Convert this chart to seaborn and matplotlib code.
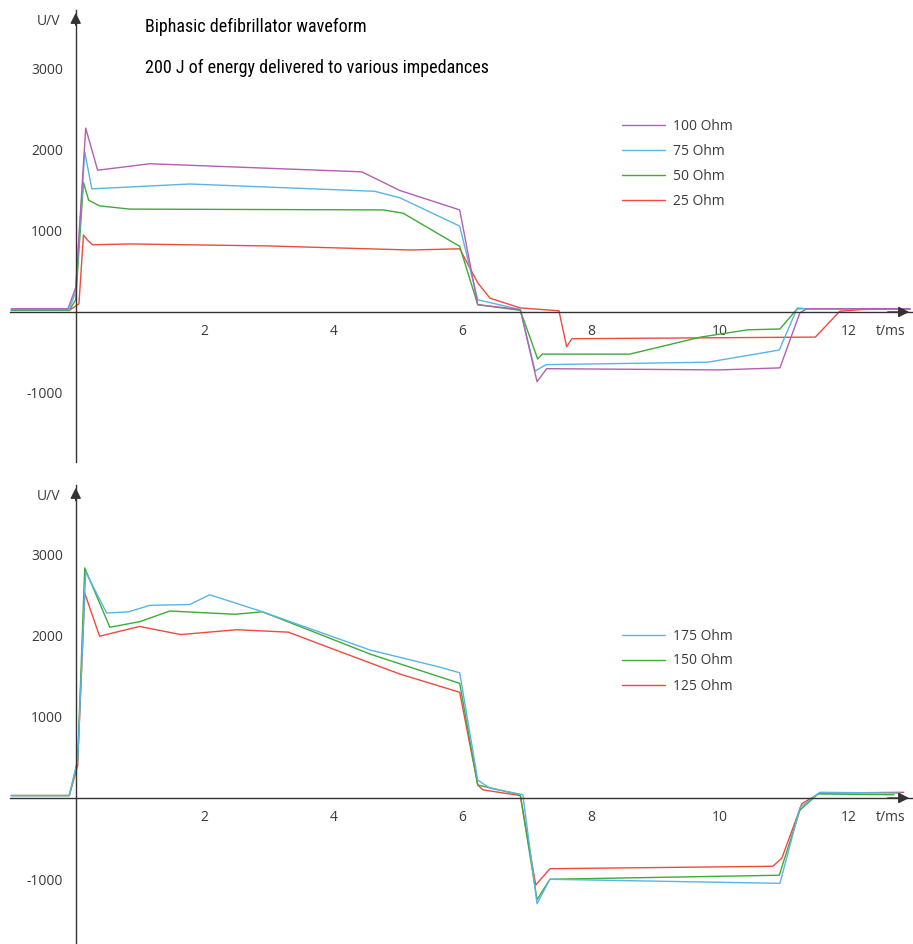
import pandas as pd
import matplotlib.pyplot as plt
import seaborn as sns
from matplotlib import font_manager

# ---- top panel: 200 J into low impedances ----
t_100 = [-1.0, -0.12, 0.0, 0.155, 0.34, 1.15, 4.44, 5.03, 5.96, 6.24, 6.9, 7.16, 7.31, 10.0, 10.93, 11.24, 11.35, 12.95]
u_100 = [40, 40, 300, 2270, 1750, 1830, 1730, 1500, 1260, 90, 30, -860, -700, -715, -690, -10, 40, 40]

t_75 = [-1.0, -0.1, 0.0, 0.14, 0.25, 1.77, 4.64, 5.03, 5.96, 6.24, 6.9, 7.13, 7.3, 9.81, 10.92, 11.2, 11.35, 12.95]
u_75 = [30, 30, 250, 1975, 1520, 1580, 1490, 1410, 1060, 150, 30, -730, -650, -620, -470, 50, 40, 40]

t_50 = [-1.0, -0.1, 0.0, 0.12, 0.2, 0.37, 0.84, 4.77, 5.08, 5.96, 6.24, 6.9, 7.17, 7.24, 8.6, 9.7, 10.43, 10.93, 11.2, 12.95]
u_50 = [20, 20, 150, 1600, 1380, 1310, 1270, 1260, 1220, 810, 90, 20, -580, -520, -520, -310, -220, -210, 40, 40]

t_25 = [-1.0, -0.1, 0.05, 0.12, 0.18, 0.26, 0.84, 3.0, 5.2, 5.96, 6.24, 6.43, 6.9, 7.5, 7.62, 7.7, 11.48, 11.86, 12.2, 12.95]
u_25 = [20, 20, 100, 950, 890, 830, 840, 815, 765, 780, 360, 170, 50, 15, -430, -330, -310, 10, 30, 40]

# ---- bottom panel: higher impedances ----
t_175 = [-1.0, -0.1, 0.03, 0.155, 0.48, 0.82, 1.15, 1.77, 2.08, 2.9, 4.57, 5.65, 5.96, 6.24, 6.43, 6.94, 7.16, 7.36, 10.93, 11.24, 11.55, 12.8]
u_175 = [30, 30, 470, 2780, 2275, 2290, 2370, 2380, 2500, 2290, 1820, 1610, 1540, 220, 120, 40, -1300, -1000, -1050, -120, 70, 60]

t_150 = [-1.0, -0.1, 0.03, 0.14, 0.53, 1.0, 1.46, 2.47, 2.9, 4.57, 5.65, 5.96, 6.24, 6.9, 7.16, 7.36, 10.92, 11.24, 11.52, 12.7]
u_150 = [30, 30, 450, 2830, 2100, 2170, 2300, 2260, 2290, 1770, 1490, 1410, 160, 40, -1250, -1000, -950, -150, 50, 40]

t_125 = [-1.0, -0.1, 0.03, 0.14, 0.37, 0.99, 1.63, 2.5, 3.3, 4.0, 5.03, 5.96, 6.24, 6.32, 6.9, 7.14, 7.36, 10.82, 10.96, 11.27, 11.55, 12.85]
u_125 = [30, 30, 400, 2520, 1990, 2110, 2010, 2070, 2040, 1830, 1525, 1300, 160, 100, 30, -1070, -870, -840, -740, -70, 60, 70]

x_ticks = [2, 4, 6, 8, 10, 12]
y_ticks = [-1000, 1000, 2000, 3000]

title_1 = 'Biphasic defibrillator waveform'
title_2 = '200 J of energy delivered to various impedances'

sns.set_style('white')
plt.rcParams['font.family'] = ['Open Sans', 'DejaVu Sans']
plt.rcParams['axes.unicode_minus'] = False

axis_col = '#333333'
text_col = '#3a3a3a'

# pick a narrow face for the headline if one is around
names = {f.name for f in font_manager.fontManager.ttflist}
narrow = [n for n in ['Liberation Sans Narrow', 'DejaVu Sans Condensed', 'Roboto Condensed']
          if n in names]
title_family = narrow[:1] + ['DejaVu Sans']


def long_form(series):
    frames = []
    for name, t, u in series:
        frames.append(pd.DataFrame({'t': t, 'U': u, 'series': name}))
    return pd.concat(frames, ignore_index=True)


def style_axes(ax, ylim):
    ax.set_xlim(-1.02, 12.98)
    ax.set_ylim(*ylim)
    for side in ['top', 'right']:
        ax.spines[side].set_visible(False)
    ax.spines['left'].set_position(('data', 0))
    ax.spines['bottom'].set_position(('data', 0))
    for side in ['left', 'bottom']:
        ax.spines[side].set_color(axis_col)
        ax.spines[side].set_linewidth(1.0)
    ax.set_xticks(x_ticks)
    ax.set_yticks(y_ticks)
    ax.tick_params(direction='inout', length=8, width=1, color=axis_col,
                   labelsize=10, labelcolor=text_col)
    ax.tick_params(axis='x', pad=5)
    ax.tick_params(axis='y', pad=5)
    ax.set_xlabel('')
    ax.set_ylabel('')
    # arrow heads on both axes
    ax.annotate('', xy=(0, 1.0), xytext=(0, 0.96), xycoords=ax.get_xaxis_transform(),
                arrowprops=dict(arrowstyle='-|>', color=axis_col, lw=1, mutation_scale=16))
    ax.annotate('', xy=(1.0, 0), xytext=(0.97, 0), xycoords=ax.get_yaxis_transform(),
                arrowprops=dict(arrowstyle='-|>', color=axis_col, lw=1, mutation_scale=16))
    ax.annotate('t/ms', xy=(12.42, 0), xytext=(0, -9), textcoords='offset points',
                ha='left', va='top', fontsize=10, color=text_col)
    ax.annotate('U/V', xy=(-0.24, ylim[1]), xytext=(0, -8), textcoords='offset points',
                ha='right', va='center', fontsize=10, color=text_col)


fig = plt.figure(figsize=(9.13, 9.44), dpi=100)
ax1 = fig.add_axes([10 / 913, 1 - 462 / 944, 902 / 913, 452 / 944])
ax2 = fig.add_axes([10 / 913, 0.0, 902 / 913, 459 / 944])

top = long_form([('100 Ohm', t_100, u_100), ('75 Ohm', t_75, u_75),
                 ('50 Ohm', t_50, u_50), ('25 Ohm', t_25, u_25)])
pal_top = {'100 Ohm': '#b35fb3', '75 Ohm': '#5ab4e4', '50 Ohm': '#3dab38', '25 Ohm': '#ee4a3e'}
sns.lineplot(data=top, x='t', y='U', hue='series', palette=pal_top, sort=False,
             estimator=None, linewidth=1.0, ax=ax1,
             hue_order=['25 Ohm', '50 Ohm', '75 Ohm', '100 Ohm'])
style_axes(ax1, (-1852, 3728))
h, l = ax1.get_legend_handles_labels()
order = [l.index(n) for n in ['100 Ohm', '75 Ohm', '50 Ohm', '25 Ohm']]
ax1.legend([h[i] for i in order], [l[i] for i in order], loc='center left',
           bbox_to_anchor=(622 / 913, 1 - 164 / 944), bbox_transform=fig.transFigure,
           frameon=False, fontsize=10, handlelength=3.1, handletextpad=0.6,
           labelspacing=0.72, borderpad=0, borderaxespad=0, labelcolor=text_col)

bottom = long_form([('175 Ohm', t_175, u_175), ('150 Ohm', t_150, u_150),
                    ('125 Ohm', t_125, u_125)])
pal_bot = {'175 Ohm': '#5ab4e4', '150 Ohm': '#3dab38', '125 Ohm': '#ee4a3e'}
sns.lineplot(data=bottom, x='t', y='U', hue='series', palette=pal_bot, sort=False,
             estimator=None, linewidth=1.0, ax=ax2,
             hue_order=['125 Ohm', '150 Ohm', '175 Ohm'])
style_axes(ax2, (-1796, 3850))
h, l = ax2.get_legend_handles_labels()
order = [l.index(n) for n in ['175 Ohm', '150 Ohm', '125 Ohm']]
ax2.legend([h[i] for i in order], [l[i] for i in order], loc='center left',
           bbox_to_anchor=(622 / 913, 1 - 661 / 944), bbox_transform=fig.transFigure,
           frameon=False, fontsize=10, handlelength=3.1, handletextpad=0.6,
           labelspacing=0.72, borderpad=0, borderaxespad=0, labelcolor=text_col)

fig.text(145 / 913, 1 - 27 / 944, title_1, ha='left', va='center', fontsize=13,
         family=title_family, stretch='condensed', color='black')
fig.text(145 / 913, 1 - 68 / 944, title_2, ha='left', va='center', fontsize=13,
         family=title_family, stretch='condensed', color='black')

fig.savefig('out.png', dpi=100)
